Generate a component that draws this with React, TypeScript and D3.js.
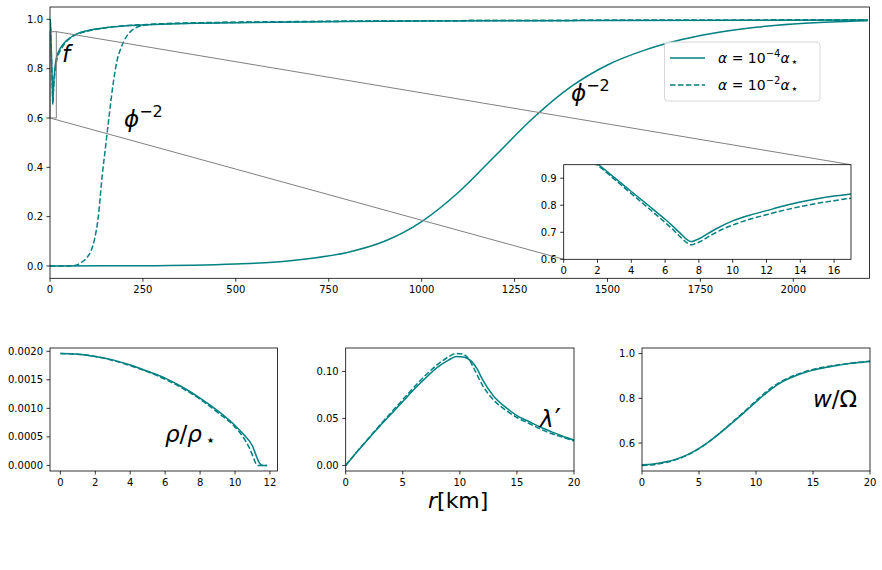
import React from 'react';
import * as d3 from 'd3';

const FONT = 'DejaVu Sans';
const TEAL = '#008080';
const DASH = '5.55,2.4';

// metric function f(r), both couplings (weak = solid, strong = dashed)
const fRadius = [0, 1, 2, 3, 4, 5, 6, 6.5, 7, 7.3, 7.5, 7.7, 8, 8.5, 9, 10, 11, 12, 13, 14, 15, 16, 17, 20, 25, 30, 40, 50, 75, 100, 150, 200, 300, 400, 600, 800, 1000, 1500, 2200];
const fWeak = [1.0, 0.987, 0.952, 0.902, 0.851, 0.8, 0.748, 0.72, 0.69, 0.673, 0.666, 0.668, 0.676, 0.694, 0.712, 0.742, 0.763, 0.78, 0.797, 0.812, 0.824, 0.834, 0.842, 0.858, 0.875, 0.888, 0.907, 0.921, 0.943, 0.954, 0.966, 0.973, 0.98, 0.984, 0.988, 0.991, 0.993, 0.995, 0.997];
const fStrong = [1.0, 0.985, 0.948, 0.896, 0.843, 0.79, 0.736, 0.708, 0.677, 0.661, 0.654, 0.656, 0.663, 0.681, 0.699, 0.727, 0.748, 0.765, 0.781, 0.795, 0.807, 0.817, 0.826, 0.845, 0.865, 0.88, 0.902, 0.918, 0.941, 0.952, 0.966, 0.974, 0.981, 0.985, 0.989, 0.992, 0.994, 0.996, 0.997];

// phi^-2
const phiWeakRadius = [0, 250, 500, 600, 700, 800, 900, 1000, 1100, 1200, 1300, 1400, 1500, 1600, 1700, 1800, 1900, 2000, 2100, 2200];
const phiWeak = [0, 0.001, 0.008, 0.015, 0.03, 0.055, 0.1, 0.18, 0.3, 0.45, 0.6, 0.725, 0.815, 0.875, 0.918, 0.948, 0.968, 0.981, 0.989, 0.994];
const phiStrongRadius = [0, 50, 70, 80, 90, 100, 110, 120, 130, 140, 150, 160, 170, 180, 190, 200, 220, 250, 300, 400, 600, 1000, 1500, 2200];
const phiStrong = [0, 0, 0.003, 0.01, 0.02, 0.035, 0.06, 0.11, 0.2, 0.36, 0.49, 0.62, 0.74, 0.83, 0.88, 0.915, 0.955, 0.975, 0.982, 0.986, 0.99, 0.994, 0.996, 0.997];

// density profile rho / rho_star
const rhoWeakRadius = [0, 1, 2, 3, 4, 5, 6, 7, 8, 9, 10, 10.5, 11, 11.2, 11.4, 11.5, 11.6, 11.84];
const rhoWeak = [0.00196, 0.00195, 0.00191, 0.00185, 0.00176, 0.00165, 0.00153, 0.00137, 0.00118, 0.00096, 0.0007, 0.00054, 0.00034, 0.00018, 0.00004, 0.00001, 0, 0];
const rhoStrongRadius = [0, 1, 2, 3, 4, 5, 6, 7, 8, 9, 10, 10.5, 10.8, 11, 11.1, 11.2, 11.3, 11.84];
const rhoStrong = [0.00196, 0.00195, 0.00191, 0.00184, 0.00175, 0.00164, 0.00151, 0.00135, 0.00116, 0.00093, 0.00067, 0.00048, 0.00032, 0.00018, 0.0001, 0.00003, 0, 0];

// lambda'
const lambdaWeakRadius = [0, 1, 2, 3, 4, 5, 6, 7, 8, 9, 9.7, 10.3, 11, 11.5, 12, 13, 14, 15, 16, 17, 18, 19, 20];
const lambdaWeak = [0, 0.0145, 0.0285, 0.042, 0.055, 0.068, 0.081, 0.093, 0.104, 0.112, 0.1158, 0.1155, 0.111, 0.103, 0.091, 0.073, 0.062, 0.053, 0.047, 0.041, 0.036, 0.031, 0.027];
const lambdaStrongRadius = [0, 1, 2, 3, 4, 5, 6, 7, 8, 9, 9.6, 10.2, 10.8, 11.2, 12, 13, 14, 15, 16, 17, 18, 19, 20];
const lambdaStrong = [0, 0.0148, 0.029, 0.043, 0.0565, 0.07, 0.0835, 0.096, 0.107, 0.1155, 0.119, 0.1185, 0.113, 0.104, 0.085, 0.069, 0.059, 0.051, 0.045, 0.039, 0.034, 0.03, 0.026];

// frame dragging w / Omega
const omegaRadius = [0, 1, 2, 3, 4, 5, 6, 7, 8, 9, 10, 11, 12, 13, 14, 15, 16, 17, 18, 19, 20];
const omegaWeak = [0.503, 0.506, 0.515, 0.528, 0.548, 0.576, 0.611, 0.651, 0.694, 0.738, 0.784, 0.828, 0.865, 0.891, 0.911, 0.926, 0.937, 0.946, 0.954, 0.96, 0.965];
const omegaStrong = [0.5, 0.503, 0.512, 0.526, 0.546, 0.575, 0.611, 0.652, 0.697, 0.742, 0.789, 0.833, 0.869, 0.895, 0.914, 0.929, 0.94, 0.948, 0.955, 0.961, 0.966];

const mainXTicks = [0, 250, 500, 750, 1000, 1250, 1500, 1750, 2000];
const mainYTicks = [0, 0.2, 0.4, 0.6, 0.8, 1.0];
const insetXTicks = [0, 2, 4, 6, 8, 10, 12, 14, 16];
const insetYTicks = [0.6, 0.7, 0.8, 0.9];
const rhoXTicks = [0, 2, 4, 6, 8, 10, 12];
const rhoYTicks = [0, 0.0005, 0.001, 0.0015, 0.002];
const lambdaXTicks = [0, 5, 10, 15, 20];
const lambdaYTicks = [0, 0.05, 0.1];
const omegaXTicks = [0, 5, 10, 15, 20];
const omegaYTicks = [0.6, 0.8, 1.0];

type Box = { left: number; right: number; top: number; bottom: number };
type Series = { r: number[]; v: number[]; dashed?: boolean };

const scalesFor = (box: Box, xd: number[], yd: number[]) => ({
  x: d3.scaleLinear().domain(xd).range([box.left, box.right]),
  y: d3.scaleLinear().domain(yd).range([box.bottom, box.top]),
});

function Axes(props: {
  id: string;
  box: Box;
  xDomain: number[];
  yDomain: number[];
  xTicks: number[];
  yTicks: number[];
  xFormat: (v: number) => string;
  yFormat: (v: number) => string;
  series: Series[];
  children?: React.ReactNode;
}) {
  const { id, box, xDomain, yDomain, xTicks, yTicks, xFormat, yFormat, series } = props;
  const { x, y } = scalesFor(box, xDomain, yDomain);
  const line = d3
    .line<[number, number]>()
    .x((d) => x(d[0]))
    .y((d) => y(d[1]))
    .curve(d3.curveMonotoneX);
  return (
    <g>
      <rect x={box.left} y={box.top} width={box.right - box.left} height={box.bottom - box.top} fill="#fff" />
      <clipPath id={id}>
        <rect x={box.left} y={box.top} width={box.right - box.left} height={box.bottom - box.top} />
      </clipPath>
      <g clipPath={`url(#${id})`}>
        {series.map((s, i) => (
          <path
            key={i}
            d={line(d3.zip(s.r, s.v) as [number, number][]) || ''}
            fill="none"
            stroke={TEAL}
            strokeWidth={1.5}
            strokeDasharray={s.dashed ? DASH : undefined}
          />
        ))}
      </g>
      {props.children}
      <rect
        x={box.left}
        y={box.top}
        width={box.right - box.left}
        height={box.bottom - box.top}
        fill="none"
        stroke="#000"
        strokeWidth={0.8}
      />
      {xTicks.map((t) => (
        <g key={`x${t}`}>
          <line x1={x(t)} x2={x(t)} y1={box.bottom} y2={box.bottom + 3.5} stroke="#000" strokeWidth={0.8} />
          <text x={x(t)} y={box.bottom + 14.5} fontSize={10} textAnchor="middle" fill="#000">
            {xFormat(t)}
          </text>
        </g>
      ))}
      {yTicks.map((t) => (
        <g key={`y${t}`}>
          <line x1={box.left - 3.5} x2={box.left} y1={y(t)} y2={y(t)} stroke="#000" strokeWidth={0.8} />
          <text x={box.left - 7} y={y(t) + 3.6} fontSize={10} textAnchor="end" fill="#000">
            {yFormat(t)}
          </text>
        </g>
      ))}
    </g>
  );
}

const fmt = (spec: string) => {
  const f = d3.format(spec);
  return (v: number) => f(v);
};

// "α = 10^k α⋆" legend label
function AlphaLabel({ x, y, power }: { x: number; y: number; power: string }) {
  return (
    <text x={x} y={y} fontSize={14}>
      <tspan fontStyle="italic">α</tspan>
      <tspan> = 10</tspan>
      <tspan dy={-6} fontSize={10}>{power}</tspan>
      <tspan dy={6} fontStyle="italic">α</tspan>
      <tspan dx={2} dy={1} fontSize={6}>★</tspan>
    </text>
  );
}

export default function App() {
  const mainBox = { left: 50, right: 869.5, top: 7, bottom: 278.3 };
  const mainX = [0, 2205];
  const mainY = [-0.05, 1.05];
  const insetBox = { left: 563.7, right: 851, top: 164.7, bottom: 259.3 };
  const insetX = [0, 17];
  const insetY = [0.6, 0.95];
  const main = scalesFor(mainBox, mainX, mainY);

  const rhoBox = { left: 50, right: 277.5, top: 348, bottom: 471 };
  const lambdaBox = { left: 345.7, right: 574, top: 348, bottom: 471 };
  const omegaBox = { left: 642, right: 870, top: 348, bottom: 471 };

  const fSeries: Series[] = [
    { r: fRadius, v: fWeak },
    { r: fRadius, v: fStrong, dashed: true },
  ];

  return (
    <svg
      width={882}
      height={570}
      style={{ position: 'absolute', left: 0, top: 0, background: '#fff' }}
      fontFamily={FONT}
    >
      <Axes
        id="clip-main"
        box={mainBox}
        xDomain={mainX}
        yDomain={mainY}
        xTicks={mainXTicks}
        yTicks={mainYTicks}
        xFormat={fmt('d')}
        yFormat={fmt('.1f')}
        series={[
          ...fSeries,
          { r: phiWeakRadius, v: phiWeak },
          { r: phiStrongRadius, v: phiStrong, dashed: true },
        ]}
      >
        {/* zoom indicator and its connectors */}
        <rect
          x={main.x(insetX[0])}
          y={main.y(insetY[1])}
          width={main.x(insetX[1]) - main.x(insetX[0])}
          height={main.y(insetY[0]) - main.y(insetY[1])}
          fill="none"
          stroke="#808080"
          strokeWidth={1}
        />
        <line
          x1={main.x(insetX[1])}
          y1={main.y(insetY[1])}
          x2={insetBox.right}
          y2={insetBox.top}
          stroke="#808080"
          strokeWidth={1}
        />
        <line
          x1={main.x(insetX[0])}
          y1={main.y(insetY[0])}
          x2={insetBox.left}
          y2={insetBox.bottom}
          stroke="#808080"
          strokeWidth={1}
        />
        <text x={62} y={62} fontSize={23} fontStyle="italic">f</text>
        <text x={124} y={127} fontSize={23}>
          <tspan fontStyle="italic">ϕ</tspan>
          <tspan dy={-10} fontSize={16}>−2</tspan>
        </text>
        <text x={571} y={101} fontSize={23}>
          <tspan fontStyle="italic">ϕ</tspan>
          <tspan dy={-10} fontSize={16}>−2</tspan>
        </text>
        {/* legend */}
        <rect x={664.5} y={42} width={155.5} height={59} rx={3} fill="#fff" fillOpacity={0.8} stroke="#cccccc" strokeWidth={0.8} />
        <line x1={670} x2={705} y1={58} y2={58} stroke={TEAL} strokeWidth={1.5} />
        <line x1={670} x2={705} y1={85} y2={85} stroke={TEAL} strokeWidth={1.5} strokeDasharray={DASH} />
        <AlphaLabel x={718} y={63} power="−4" />
        <AlphaLabel x={718} y={90} power="−2" />
      </Axes>

      <Axes
        id="clip-inset"
        box={insetBox}
        xDomain={insetX}
        yDomain={insetY}
        xTicks={insetXTicks}
        yTicks={insetYTicks}
        xFormat={fmt('d')}
        yFormat={fmt('.1f')}
        series={fSeries}
      />

      <Axes
        id="clip-rho"
        box={rhoBox}
        xDomain={[-0.592, 12.432]}
        yDomain={[-0.000098, 0.002058]}
        xTicks={rhoXTicks}
        yTicks={rhoYTicks}
        xFormat={fmt('d')}
        yFormat={fmt('.4f')}
        series={[
          { r: rhoWeakRadius, v: rhoWeak },
          { r: rhoStrongRadius, v: rhoStrong, dashed: true },
        ]}
      >
        <text x={165} y={442} fontSize={23}>
          <tspan fontStyle="italic">ρ</tspan>
          <tspan>/</tspan>
          <tspan fontStyle="italic">ρ</tspan>
          <tspan dx={5} dy={1} fontSize={8}>★</tspan>
        </text>
      </Axes>

      <Axes
        id="clip-lambda"
        box={lambdaBox}
        xDomain={[0, 20]}
        yDomain={[-0.00595, 0.12495]}
        xTicks={lambdaXTicks}
        yTicks={lambdaYTicks}
        xFormat={fmt('d')}
        yFormat={fmt('.2f')}
        series={[
          { r: lambdaWeakRadius, v: lambdaWeak },
          { r: lambdaStrongRadius, v: lambdaStrong, dashed: true },
        ]}
      >
        <text x={540} y={427} fontSize={23}>
          <tspan fontStyle="italic">λ</tspan>
          <tspan dx={1} dy={2} fontSize={28}>′</tspan>
        </text>
      </Axes>

      <Axes
        id="clip-omega"
        box={omegaBox}
        xDomain={[0, 20]}
        yDomain={[0.475, 1.025]}
        xTicks={omegaXTicks}
        yTicks={omegaYTicks}
        xFormat={fmt('d')}
        yFormat={fmt('.1f')}
        series={[
          { r: omegaRadius, v: omegaWeak },
          { r: omegaRadius, v: omegaStrong, dashed: true },
        ]}
      >
        <text x={813} y={407} fontSize={23}>
          <tspan fontStyle="italic">w</tspan>
          <tspan>/Ω</tspan>
        </text>
      </Axes>

      <text x={428} y={508} fontSize={22}>
        <tspan fontStyle="italic">r</tspan>
        <tspan>[km]</tspan>
      </text>
    </svg>
  );
}
